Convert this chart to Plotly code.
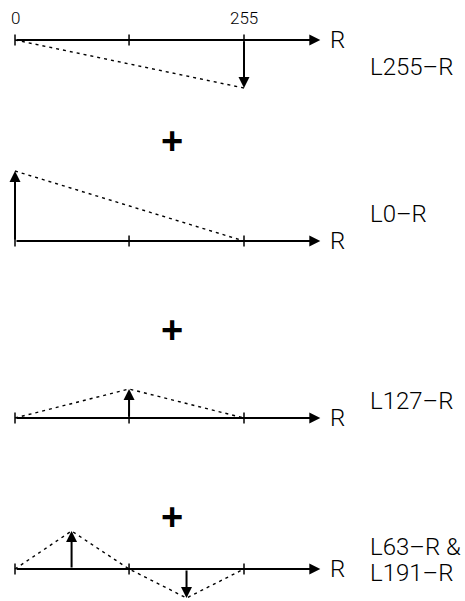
import plotly.graph_objects as go

# ---------------- data ----------------
tick_R = [0, 127, 255]
top_tick_labels = ["0", "255"]
top_tick_label_R = [0, 255]
axis_end_R = 340
axis_name = "R"

p1_R = [0, 255]
p1_v = [0, -48]
p1_arrow_R = [255]
p1_arrow_v = [-48]

p2_R = [0, 255]
p2_v = [70, 0]
p2_arrow_R = [0]
p2_arrow_v = [70]

p3_R = [0, 127, 255]
p3_v = [0, 29, 0]
p3_arrow_R = [127]
p3_arrow_v = [29]

p4_R = [0, 63, 127, 191, 255]
p4_v = [0, 38, 0, -29, 0]
p4_arrow_R = [63, 191]
p4_arrow_v = [38, -29]

panel_labels = [["L255–R"], ["L0–R"], ["L127–R"], ["L63–R &", "L191–R"]]
plus_sign = "+"

# ---------------- layout constants ----------------
W, H = 465, 601
X0_PX, PX_PER_R = 15.0, 229.0 / 255.0
x_range = [-X0_PX / PX_PER_R, (W - X0_PX) / PX_PER_R]
baselines_px = [40, 241, 418, 569]
label_y_px = [[67], [214], [401], [547, 573]]
label_x_px = 368
axis_name_x_px = 328
plus_x_px = 172
plus_y_px = [141, 330, 517]

FONT = "Roboto"
BLACK = "#000000"

panels = [
    (p1_R, p1_v, p1_arrow_R, p1_arrow_v),
    (p2_R, p2_v, p2_arrow_R, p2_arrow_v),
    (p3_R, p3_v, p3_arrow_R, p3_arrow_v),
    (p4_R, p4_v, p4_arrow_R, p4_arrow_v),
]

fig = go.Figure()
annotations = []

for k, (R, v, aR, av) in enumerate(panels):
    yname = "y" if k == 0 else f"y{k+1}"
    # dashed response line
    fig.add_trace(go.Scatter(
        x=R, y=v, mode="lines", xaxis="x", yaxis=yname,
        line=dict(color=BLACK, width=1.4, dash="3px,4px"),
        hoverinfo="skip", showlegend=False))
    # ticks
    fig.add_trace(go.Scatter(
        x=tick_R, y=[0] * len(tick_R), mode="markers", xaxis="x", yaxis=yname,
        marker=dict(symbol="line-ns", size=8, line=dict(color=BLACK, width=1.5)),
        hoverinfo="skip", showlegend=False))
    # axis arrow
    annotations.append(dict(
        x=axis_end_R, y=0, ax=0, ay=0, xref="x", yref=yname, axref="x", ayref=yname,
        text="", showarrow=True, arrowhead=2, arrowsize=1.1, arrowwidth=2,
        arrowcolor=BLACK, standoff=0, startstandoff=0))
    # axis name
    annotations.append(dict(
        x=axis_name_x_px / W, y=1 - baselines_px[k] / H, xref="paper", yref="paper",
        text=axis_name, showarrow=False, xanchor="left", yanchor="middle",
        font=dict(family=FONT, size=24, color=BLACK, weight=300)))
    # value arrows
    for r, a in zip(aR, av):
        annotations.append(dict(
            x=r, y=a, ax=r, ay=0, xref="x", yref=yname, axref="x", ayref=yname,
            text="", showarrow=True, arrowhead=2, arrowsize=1.1, arrowwidth=2,
            arrowcolor=BLACK, standoff=0, startstandoff=0))
    # panel labels
    for line, ypx in zip(panel_labels[k], label_y_px[k]):
        annotations.append(dict(
            x=label_x_px / W, y=1 - ypx / H, xref="paper", yref="paper",
            text=line, showarrow=False, xanchor="left", yanchor="middle",
            font=dict(family=FONT, size=24, color=BLACK, weight=300)))

# top tick labels
for lab, r in zip(top_tick_labels, top_tick_label_R):
    annotations.append(dict(
        x=r, y=1 - 18 / H, xref="x", yref="paper", text=lab, showarrow=False,
        xanchor="center", yanchor="middle",
        font=dict(family=FONT, size=17, color=BLACK, weight=300)))

# plus signs
for ypx in plus_y_px:
    annotations.append(dict(
        x=plus_x_px / W, y=1 - ypx / H, xref="paper", yref="paper",
        text=plus_sign, showarrow=False, xanchor="center", yanchor="middle",
        font=dict(family="Liberation Sans", size=38, color=BLACK, weight="bold")))

layout = dict(
    width=W, height=H, margin=dict(l=0, r=0, t=0, b=0),
    paper_bgcolor="white", plot_bgcolor="white",
    xaxis=dict(range=x_range, visible=False, fixedrange=True, domain=[0, 1]),
    annotations=annotations, showlegend=False,
)
for k, b in enumerate(baselines_px):
    key = "yaxis" if k == 0 else f"yaxis{k+1}"
    ax = dict(range=[b - H, b], visible=False, fixedrange=True, domain=[0, 1])
    if k > 0:
        ax["overlaying"] = "y"
    layout[key] = ax
fig.update_layout(**layout)

fig.write_html(
    "out.html",
    config={"displayModeBar": False},
    post_script="document.body.style.margin='0px';document.body.style.overflow='hidden';",
)
